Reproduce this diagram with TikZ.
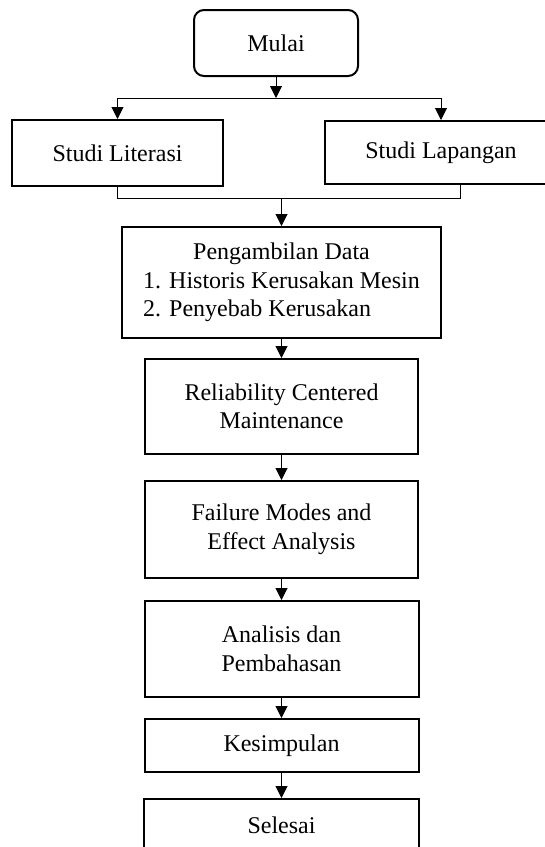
\documentclass[tikz,border=0pt]{standalone}
\usepackage{fontspec}
\setmainfont{Liberation Serif}
\usetikzlibrary{arrows.meta}

\begin{document}
\begin{tikzpicture}[x=0.5pt, y=-0.5pt,
	font=\fontsize{12pt}{14.25pt}\selectfont,
	box/.style={draw, line width=1pt, align=center, inner sep=0pt},
	start/.style={box, rounded corners=5pt},
	line/.style={line width=0.5pt},
	arr/.style={line, -{Triangle[width=6pt, length=6pt]}}]
		\useasboundingbox (0,0) rectangle (545,847);
			\node[start, minimum width=82pt, minimum height=33pt] (mulai) at (276,43) {Mulai};
			\node[box, minimum width=105.5pt, minimum height=33pt] (literasi) at (117.5,153) {Studi Literasi};
			\node[box, minimum width=116pt, minimum height=31.5pt] (lapangan) at (441,152.5) {Studi Lapangan};
			\node[box, minimum width=159.5pt, minimum height=55.5pt] (data) at (281.5,282.5)
				{Pengambilan Data\\1. Historis Kerusakan Mesin\\\rlap{2. Penyebab Kerusakan}\phantom{1. Historis Kerusakan Mesin}};
			\node[box, minimum width=136.5pt, minimum height=47.5pt] (rcm) at (281.5,406.5) {Reliability Centered\\Maintenance};
			\node[box, minimum width=136.5pt, minimum height=48.5pt] (fmea) at (281.5,529.5) {Failure Modes and\\Effect Analysis};
			\node[box, minimum width=137pt, minimum height=48pt] (analisis) at (281.5,649) {Analisis dan\\Pembahasan};
			\node[box, minimum width=137pt, minimum height=26.5pt] (kesimpulan) at (281.5,745.5) {Kesimpulan};
			\node[box, minimum width=137.5pt, minimum height=26pt] (selesai) at (281.5,825) {Selesai};
				% split and join
				\coordinate (split) at (276,98);
				\coordinate (join) at (281.5,198);
				\draw[arr] (mulai) -- (split);
				\draw[arr] (split) -| (literasi.north);
				\draw[arr] (split) -| (lapangan.north);
				\draw[line] (literasi.south) |- (join);
				\draw[line] ([xshift=9.5pt]lapangan.south) |- (join);
				\draw[arr] (join) -- (data);
					\draw[arr] (data) -- (rcm);
					\draw[arr] (rcm) -- (fmea);
					\draw[arr] (fmea) -- (analisis);
					\draw[arr] (analisis) -- (kesimpulan);
					\draw[arr] (kesimpulan) -- (selesai);
\end{tikzpicture}
\end{document}
